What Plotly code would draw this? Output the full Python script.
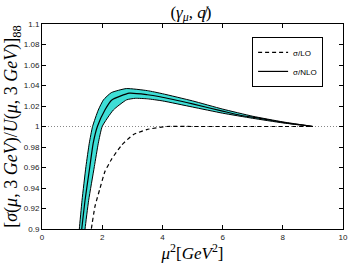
import plotly.graph_objects as go

# NLO band (upper / centre / lower) and LO curve
nlo_up_x = [1.18, 1.24, 1.33, 1.46, 1.57, 1.68, 1.87, 2.04, 2.3, 2.8, 3.5, 4.0, 5.0, 6.0, 7.0, 8.0, 9.0]
nlo_up_y = [0.88, 0.90, 0.928, 0.961, 0.9836, 1.0, 1.0161, 1.0259, 1.033, 1.037, 1.035, 1.032, 1.025, 1.017, 1.010, 1.0045, 1.0]
nlo_mid_x = [1.26, 1.32, 1.43, 1.59, 1.70, 1.84, 2.09, 2.32, 2.9, 3.5, 3.92, 5.0, 6.0, 6.58, 7.24, 8.0, 9.0]
nlo_mid_y = [0.88, 0.90, 0.928, 0.961, 0.9836, 1.0, 1.0161, 1.0259, 1.0325, 1.031, 1.029, 1.022, 1.015, 1.011, 1.008, 1.004, 1.0]
nlo_lo_x = [1.36, 1.43, 1.55, 1.74, 1.87, 2.0, 2.37, 2.81, 3.1, 3.5, 4.0, 5.0, 6.0, 7.0, 8.0, 9.0]
nlo_lo_y = [0.88, 0.90, 0.928, 0.961, 0.9836, 1.0, 1.0161, 1.026, 1.0275, 1.027, 1.025, 1.019, 1.013, 1.008, 1.0035, 1.0]
lo_x = [1.57, 1.64, 1.76, 1.93, 2.09, 2.31, 2.65, 3.03, 3.48, 4.14, 5.0, 6.0, 7.0, 8.0, 9.0]
lo_y = [0.88, 0.90, 0.922, 0.940, 0.956, 0.968, 0.982, 0.992, 0.997, 1.0, 1.0, 1.0, 1.0, 1.0, 1.0]
ref_x = [0, 10]
ref_y = [1, 1]

x_ticks = [0, 2, 4, 6, 8, 10]
y_ticks = [0.9, 0.92, 0.94, 0.96, 0.98, 1.0, 1.02, 1.04, 1.06, 1.08, 1.1]
y_ticktext = ["0.9", "0.92", "0.94", "0.96", "0.98", "1", "1.02", "1.04", "1.06", "1.08", "1.1"]

fig = go.Figure()
fig.add_trace(go.Scatter(x=ref_x, y=ref_y, mode="lines", showlegend=False,
                         line=dict(color="#888888", width=1, dash="1px,2px"), hoverinfo="skip"))
band_x = nlo_up_x + nlo_lo_x[::-1]
band_y = nlo_up_y + nlo_lo_y[::-1]
fig.add_trace(go.Scatter(x=band_x, y=band_y, mode="lines", fill="toself", fillcolor="#3EDED6",
                         line=dict(color="black", width=1, shape="spline", smoothing=0.5),
                         showlegend=False, hoverinfo="skip"))
fig.add_trace(go.Scatter(x=lo_x, y=lo_y, mode="lines", name="σ/LO",
                         line=dict(color="black", width=1.2, dash="4px,3px", shape="spline", smoothing=0.5)))
fig.add_trace(go.Scatter(x=nlo_mid_x, y=nlo_mid_y, mode="lines", name="σ/NLO",
                         line=dict(color="black", width=1.2, shape="spline", smoothing=0.5)))

axis_common = dict(showline=True, linecolor="black", linewidth=1, mirror="ticks",
                   ticks="inside", ticklen=4, tickcolor="black", showgrid=False, zeroline=False,
                   automargin=False,
                   tickfont=dict(family="Liberation Sans, Arial", size=8, color="#222"))
fig.update_xaxes(range=[0, 10], tickvals=x_ticks, **axis_common,
                 title=dict(text="<i>μ</i><sup>2</sup>[<i>GeV</i><sup>2</sup>]",
                            font=dict(family="Liberation Serif, DejaVu Serif", size=17, color="black"),
                            standoff=2))
fig.update_yaxes(range=[0.9, 1.1], tickvals=y_ticks, ticktext=y_ticktext, **axis_common,
                 title=dict(text="[<i>σ</i>(<i>μ</i>, 3 <i>GeV</i>)/<i>U</i>(<i>μ</i>, 3 <i>GeV</i>)]<sub>88</sub>",
                            font=dict(family="Liberation Serif, DejaVu Serif", size=18, color="black"),
                            standoff=0))
fig.update_layout(
    width=349, height=263,
    margin=dict(l=42, r=6, t=24, b=34),
    paper_bgcolor="white", plot_bgcolor="white",
    title=dict(text="(<i>γ<sub>μ</sub></i>, <i>q̸</i>)", x=0.547, xanchor="center", y=0.955, yanchor="middle",
               automargin=False,
               font=dict(family="Liberation Serif, DejaVu Serif", size=17, color="black")),
    legend=dict(x=0.698, y=0.937, xanchor="left", yanchor="top", bordercolor="black", borderwidth=1,
                bgcolor="white", font=dict(family="Liberation Sans, Arial", size=8, color="black"),
                itemwidth=30, tracegroupgap=0),
)
fig.write_html("out.html", config={"displayModeBar": False},
               post_script="document.body.style.margin='0';")
